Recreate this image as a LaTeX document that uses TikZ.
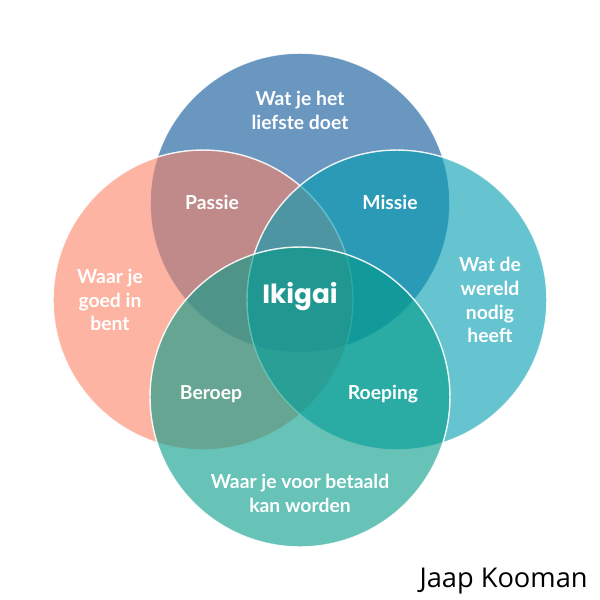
\documentclass[tikz,border=0pt]{standalone}
\usepackage{fontspec}
\setmainfont{Lato}
\newfontfamily\ikifont{Poppins}
\newfontfamily\signfont{Open Sans}
\definecolor{topblue}{HTML}{075296}
\definecolor{leftpink}{HTML}{FC8267}
\definecolor{rightcyan}{HTML}{009DB2}
\definecolor{bottomteal}{HTML}{029B87}

\begin{document}
\begin{tikzpicture}[x=0.02cm, y=-0.02cm,
    ring/.style={fill opacity=0.6, draw=white, draw opacity=0.9,
                 line width=0.8pt},
    lbl/.style={text=white, align=center,
                font=\bfseries\fontsize{11}{13.6}\selectfont}]
  \useasboundingbox (0,0) rectangle (600,600);
  \fill[white] (0,0) rectangle (600,600);

  % the four circles, blended in this order
  \draw[ring, fill=topblue]    (300,203) circle (3cm);
  \draw[ring, fill=leftpink]   (203,300) circle (3cm);
  \draw[ring, fill=rightcyan]  (397,300) circle (3cm);
  \draw[ring, fill=bottomteal] (300,397) circle (3cm);

  % texts
  \node[lbl] (liefste) at (300,110) {Wat je het\\liefste doet};
  \node[lbl] (goed)    at (110,300) {Waar je\\goed in\\bent};
  \node[lbl] (wereld)  at (490,300) {Wat de\\wereld\\nodig\\heeft};
  \node[lbl] (betaald) at (300,493) {Waar je voor betaald\\kan worden};
  \node[lbl] (passie)  at (212,202) {Passie};
  \node[lbl] (missie)  at (390,202) {Missie};
  \node[lbl] (beroep)  at (211,394) {Beroep};
  \node[lbl] (roeping) at (383,394) {Roeping};
  \node[text=white, font=\ikifont\bfseries\fontsize{15}{18}\selectfont]
    (ikigai) at (300,297) {Ikigai};
  \node[anchor=base east, inner sep=0pt,
        font=\signfont\fontsize{15.5}{18}\selectfont]
    (auteur) at (588,587) {Jaap Kooman};
\end{tikzpicture}
\end{document}
